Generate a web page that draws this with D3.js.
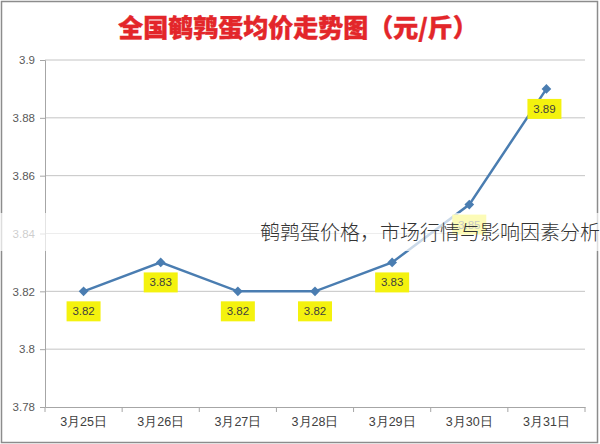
<!DOCTYPE html>
<html>
<head>
<meta charset="utf-8">
<script src="https://cdn.jsdelivr.net/npm/d3@7"></script>
<style>
  body { margin: 0; background: #fff; }
  svg { display: block; font-family: "Noto Sans CJK SC", "Noto Sans", sans-serif; }
</style>
</head>
<body>
<script>
// data
const dates = ["3月25日", "3月26日", "3月27日", "3月28日", "3月29日", "3月30日", "3月31日"];
const prices = [3.82, 3.83, 3.82, 3.82, 3.83, 3.85, 3.89];
const yTicks = [3.78, 3.8, 3.82, 3.84, 3.86, 3.88, 3.9];
const title = "全国鹌鹑蛋均价走势图（元/斤）";
const overlayText = "鹌鹑蛋价格，市场行情与影响因素分析";

const w = 600;
const h = 444;
const p = { t: 60, r: 15, b: 37, l: 45 };

const svg = d3.select("body").append("svg").attr("width", w).attr("height", h);

// outer frame
svg.append("rect")
  .attr("x", 1.5).attr("y", 1.5)
  .attr("width", w - 4).attr("height", h - 3)
  .attr("fill", "#fff")
  .attr("stroke", "#8c8c8c")
  .attr("stroke-width", 1.5);

svg.append("text")
  .attr("x", 298)
  .attr("y", 37)
  .attr("text-anchor", "middle")
  .attr("font-size", 25)
  .attr("font-weight", "900")
  .attr("fill", "#e3262a")
  .attr("stroke", "#e3262a")
  .attr("stroke-width", 0.4)
  .text(title);

const x = d3.scaleBand().domain(dates).range([p.l, w - p.r]);
const y = d3.scaleLinear().domain([3.78, 3.9]).range([h - p.b, p.t]);

// grid
svg.append("g")
  .selectAll("line")
  .data(yTicks.slice(1))
  .join("line")
  .attr("x1", p.l).attr("x2", w - p.r)
  .attr("y1", (d) => y(d)).attr("y2", (d) => y(d))
  .attr("stroke", "#c4c4c4")
  .attr("stroke-width", 1);

// y axis
const yAxis = svg.append("g")
  .attr("transform", `translate(${p.l},0)`)
  .call(d3.axisLeft(y).tickValues(yTicks).tickSize(5).tickPadding(5).tickFormat(d3.format("")));
yAxis.select(".domain").attr("stroke", "#a6a6a6");
yAxis.selectAll(".tick line").attr("stroke", "#a6a6a6");
yAxis.selectAll("text").attr("font-size", 11.5).attr("fill", "#595959")
  .attr("font-family", "Liberation Sans, Arial, sans-serif");

// x axis
const xAxis = svg.append("g")
  .attr("transform", `translate(0,${h - p.b})`)
  .call(d3.axisBottom(x).tickSize(0).tickPadding(10));
xAxis.select(".domain").attr("stroke", "#a6a6a6");
xAxis.selectAll("text").attr("font-size", 12.5).attr("fill", "#404040");
svg.append("g")
  .selectAll("line")
  .data(dates.map((d) => x(d)).concat([w - p.r]))
  .join("line")
  .attr("x1", (d) => d).attr("x2", (d) => d)
  .attr("y1", h - p.b).attr("y2", h - p.b + 5)
  .attr("stroke", "#a6a6a6");

// line
const cx = (d, i) => x(dates[i]) + x.bandwidth() / 2;
svg.append("path")
  .datum(prices)
  .attr("fill", "none")
  .attr("stroke", "#4a7db1")
  .attr("stroke-width", 2.5)
  .attr("d", d3.line().x(cx).y((d) => y(d)));

svg.append("g")
  .selectAll("path")
  .data(prices)
  .join("path")
  .attr("transform", (d, i) => `translate(${cx(d, i)},${y(d)})`)
  .attr("d", d3.symbol(d3.symbolDiamond2, 60))
  .attr("fill", "#4a7db1");

// labels
const labels = svg.append("g")
  .selectAll("g")
  .data(prices)
  .join("g")
  .attr("transform", (d, i) => `translate(${cx(d, i) - (i === 6 ? 2 : 0)},${y(d) + 20})`);
labels.append("rect")
  .attr("x", -17).attr("y", -10)
  .attr("width", 34).attr("height", 20)
  .attr("fill", "#f4f20e");
labels.append("text")
  .attr("text-anchor", "middle")
  .attr("dy", "0.35em")
  .attr("font-size", 11.5)
  .attr("font-family", "Liberation Sans, Arial, sans-serif")
  .attr("fill", "#3f3f3f")
  .text((d) => d3.format(".2f")(d));

// overlay band
svg.append("rect")
  .attr("x", 0).attr("y", 213)
  .attr("width", w).attr("height", 38)
  .attr("fill", "#fff")
  .attr("opacity", 0.7);
svg.append("text")
  .attr("x", w)
  .attr("y", 240)
  .attr("text-anchor", "end")
  .attr("font-size", 20)
  .attr("font-weight", 300)
  .attr("fill", "#333")
  .text(overlayText);
</script>
</body>
</html>
